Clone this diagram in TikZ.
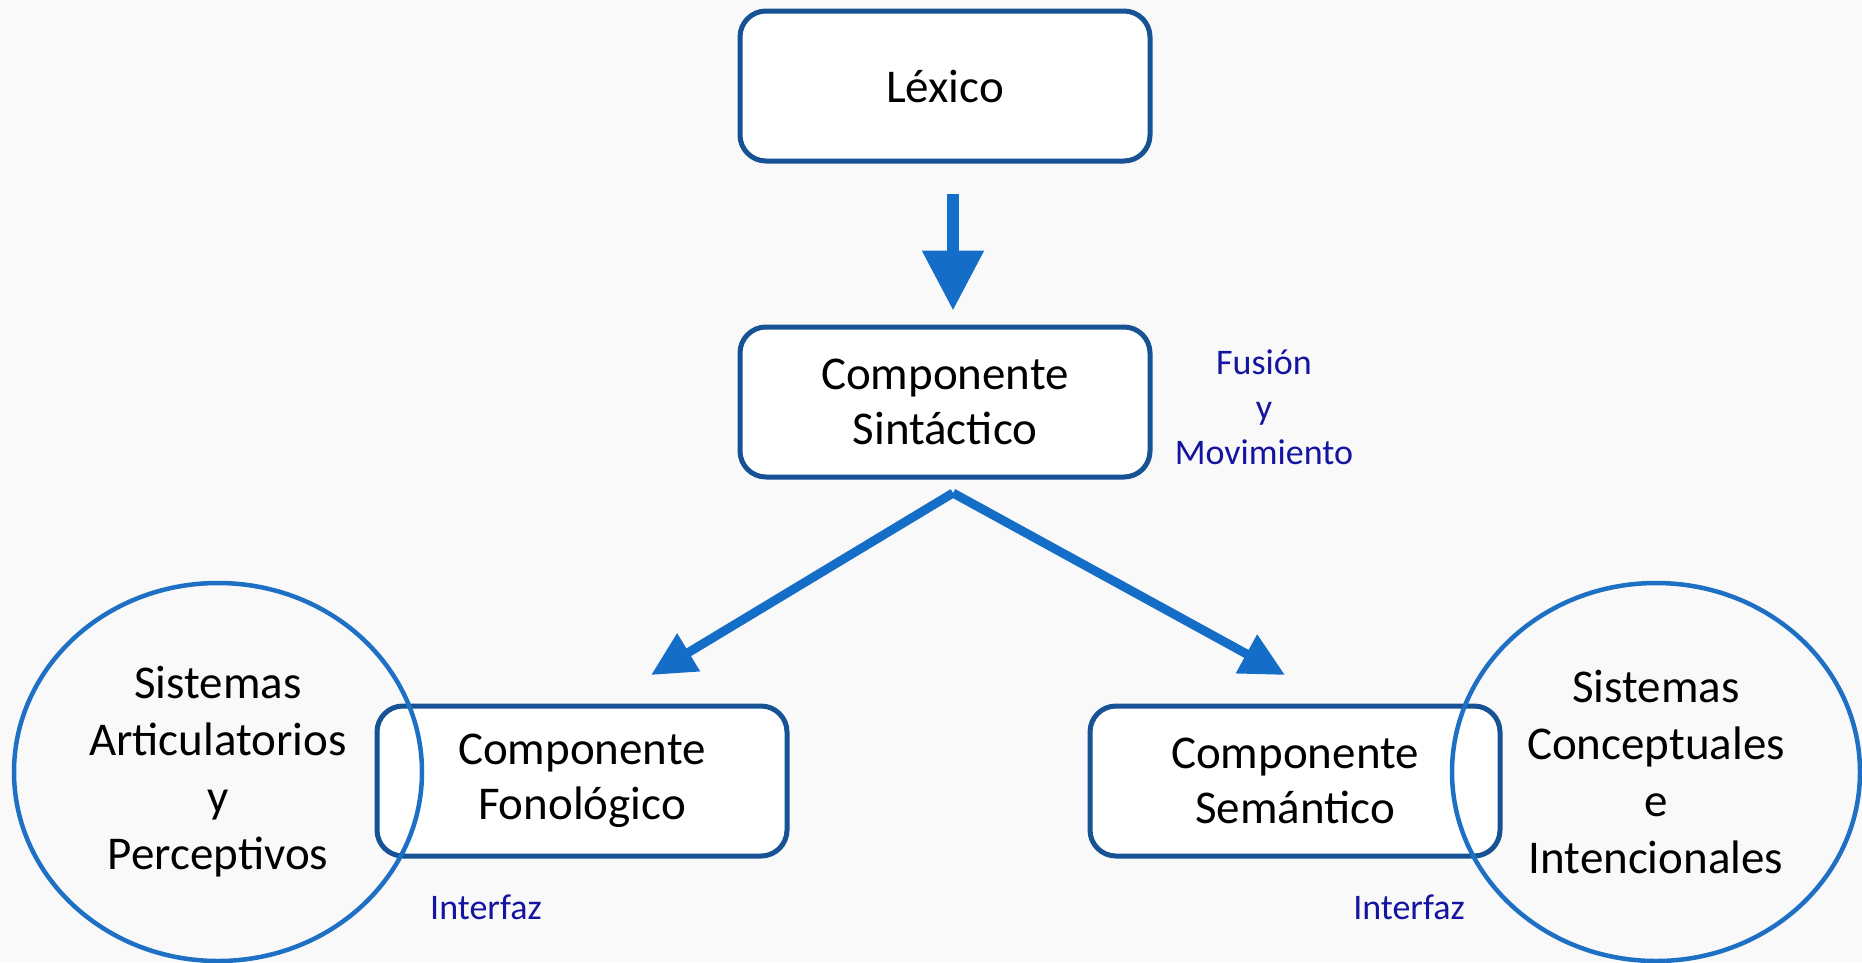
\documentclass[tikz,border=0pt]{standalone}
\usepackage{fontspec}
\setmainfont{Carlito}
\usepackage{tikz}
\usetikzlibrary{arrows.meta,shapes,positioning}
\definecolor{boxblue}{RGB}{22,82,148}
\definecolor{ringblue}{RGB}{30,112,196}
\definecolor{arrowblue}{RGB}{20,110,200}
\definecolor{notenavy}{RGB}{20,20,160}
\definecolor{paper}{RGB}{249,249,249}
\newcommand{\boxtxt}{\fontsize{47}{55}\selectfont}
\newcommand{\ringtxt}{\fontsize{47}{57}\selectfont}
\newcommand{\notetxt}{\fontsize{36}{45}\selectfont}
\tikzstyle{block} = [draw=boxblue, line width=5pt, rounded corners=26pt,
    fill=white, minimum width=410pt, minimum height=150pt, align=center,
    font=\boxtxt]
\tikzstyle{ring} = [draw=ringblue, line width=4.5pt, ellipse, inner sep=0pt,
    minimum width=408pt, minimum height=378pt, align=center, font=\ringtxt]
\tikzstyle{note} = [text=notenavy, align=center, font=\notetxt]
\tikzstyle{link} = [draw=arrowblue, line width=9pt,
    -{Triangle[length=44pt,width=42pt]}]
\tikzstyle{bigdown} = [draw=arrowblue, line width=12pt,
    -{Triangle[length=60pt,width=59pt]}]

\begin{document}
\begin{tikzpicture}[x=1pt, y=-1pt, node distance=316pt]
  \useasboundingbox (0,0) rectangle (1862,962);
  \fill[paper] (0,0) rectangle (1862,962);
  % Place nodes
  \node [block] (lex) at (945,86) {L\'exico};
  \node [block, below of=lex] (sint) {Componente\\Sint\'actico};
  \node [block] (fon) at (582,781) {Componente\\Fonol\'ogico};
  \node [block] (sem) at (1295,781) {Componente\\Sem\'antico};
  \node [ring] (artic) at (218,772) {Sistemas\\Articulatorios\\y\\Perceptivos};
  \node [ring] (concep) at (1656,772) {Sistemas\\Conceptuales\\e\\Intencionales};
  \node [note] (fusion) at (1264,407) {Fusi\'on\\y\\Movimiento};
  \node [note] (ifon) at (486,907) {Interfaz};
  \node [note] (isem) at (1409,907) {Interfaz};
  % Arrows
  \coordinate (split) at (953,493);
  \coordinate (fontip) at (651,675);
  \coordinate (semtip) at (1285,675);
  \draw[bigdown] ([xshift=8pt,yshift=-30pt]lex.south) -- ([xshift=8pt,yshift=14pt]sint.north);
  \draw[link] (split) -- (fontip);
  \draw[link] (split) -- (semtip);
\end{tikzpicture}
\end{document}
